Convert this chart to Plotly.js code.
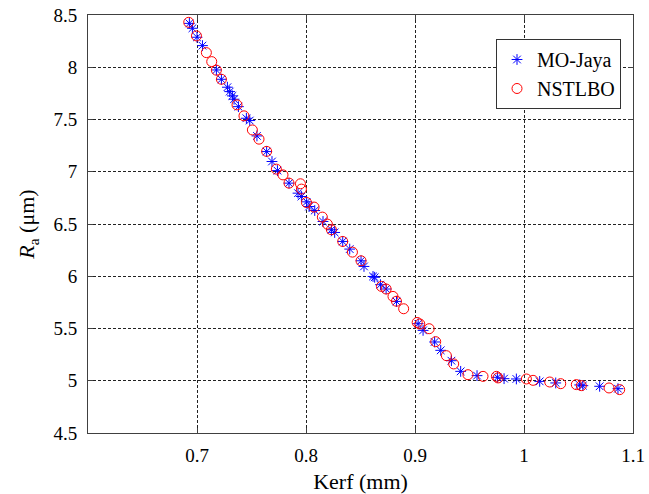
<!DOCTYPE html>
<html>
<head>
<meta charset="utf-8">
<script src="https://cdn.plot.ly/plotly-3.0.1.min.js"></script>
<style>html,body{margin:0;padding:0;background:#fff;}#chart{width:649px;height:494px;}</style>
</head>
<body>
<div id="chart"></div>
<script>
// MO-Jaya (asterisk markers)
var jayaKerf = [0.693,0.6958,0.700,0.705,0.7178,0.7224,0.7279,0.730,0.7325,0.734,0.738,0.7453,0.7484,0.755,0.7639,0.7688,0.7738,0.7844,0.7927,0.7958,0.8006,0.8028,0.808,0.8156,0.8233,0.8263,0.8337,0.8401,0.8505,0.8532,0.8615,0.863,0.8683,0.8735,0.883,0.9029,0.9074,0.918,0.9236,0.9334,0.9419,0.9569,0.9756,0.9817,0.993,1.0144,1.0291,1.0511,1.054,1.0694,1.0862];
var jayaRa   = [8.42,8.373,8.287,8.207,7.974,7.885,7.809,7.767,7.726,7.694,7.623,7.512,7.49,7.343,7.193,7.098,7.011,6.891,6.795,6.763,6.712,6.667,6.629,6.524,6.445,6.419,6.333,6.26,6.148,6.094,5.998,5.99,5.919,5.878,5.759,5.546,5.482,5.371,5.291,5.192,5.09,5.049,5.033,5.02,5.017,4.994,4.979,4.96,4.953,4.947,4.924];
// NSTLBO (circle markers)
var nstKerf = [0.6924,0.6995,0.7086,0.7135,0.7178,0.7224,0.7367,0.7431,0.7508,0.7569,0.7639,0.7728,0.7789,0.7844,0.7949,0.7958,0.8004,0.8074,0.815,0.8196,0.8233,0.8337,0.8426,0.8505,0.8692,0.8735,0.8798,0.883,0.8896,0.902,0.9044,0.913,0.919,0.9288,0.9355,0.9486,0.9624,0.9747,0.9762,1.0022,1.0083,1.0236,1.0337,1.048,1.0526,1.078,1.0878];
var nstRa   = [8.43,8.30,8.14,8.054,7.972,7.885,7.64,7.535,7.40,7.312,7.195,7.025,6.97,6.891,6.885,6.834,6.706,6.662,6.566,6.499,6.445,6.333,6.231,6.148,5.903,5.878,5.807,5.761,5.689,5.558,5.543,5.498,5.374,5.24,5.161,5.058,5.042,5.042,5.027,5.017,5.004,4.988,4.972,4.963,4.953,4.931,4.915];
var xTicks = [0.7,0.8,0.9,1.0,1.1];
var xTickText = ['0.7','0.8','0.9','1','1.1'];
var yTicks = [4.5,5,5.5,6,6.5,7,7.5,8,8.5];
var yTickText = ['4.5','5','5.5','6','6.5','7','7.5','8','8.5'];
var seriesNames = ['MO-Jaya','NSTLBO'];

var serif = '"Liberation Serif", "Times New Roman", Times, serif';
var traces = [
  {x: jayaKerf, y: jayaRa, name: seriesNames[0], type: 'scatter', mode: 'markers',
   marker: {symbol: 'asterisk-open', size: 9, color: '#0000ff', line: {color: '#0000ff', width: 1}}},
  {x: nstKerf, y: nstRa, name: seriesNames[1], type: 'scatter', mode: 'markers',
   marker: {symbol: 'circle-open', size: 10, color: '#ff0000', line: {color: '#ff0000', width: 1}}}
];
var axisCommon = {
  showline: true, mirror: 'ticks', linecolor: '#404040', linewidth: 1,
  ticks: 'inside', ticklen: 5, tickcolor: '#404040', tickwidth: 1,
  showgrid: true, gridcolor: '#222', gridwidth: 1, griddash: '3px,2px',
  zeroline: false, tickfont: {family: serif, size: 19, color: '#000'}
};
var layout = {
  width: 649, height: 494,
  margin: {l: 88, r: 16, t: 15, b: 61},
  paper_bgcolor: '#fff', plot_bgcolor: '#fff',
  showlegend: true,
  font: {family: serif},
  xaxis: Object.assign({}, axisCommon, {
    range: [0.6, 1.1], tickmode: 'array', tickvals: xTicks, ticktext: xTickText,
    ticklabelstandoff: 5,
    title: {text: 'Kerf (mm)', font: {family: serif, size: 22, color: '#000'}, standoff: 10}
  }),
  yaxis: Object.assign({}, axisCommon, {
    range: [4.5, 8.5], tickmode: 'array', tickvals: yTicks, ticktext: yTickText,
    ticklabelstandoff: 6,
    title: {text: '<i>R</i><sub>a</sub> (μm)', font: {family: serif, size: 22, color: '#000'}, standoff: 12}
  }),
  legend: {
    x: 0.978, y: 0.9426, xanchor: 'right', yanchor: 'top',
    bgcolor: '#fff', bordercolor: '#333', borderwidth: 1,
    font: {family: serif, size: 20, color: '#000'}
  }
};
Plotly.newPlot('chart', traces, layout, {staticPlot: true, displayModeBar: false});
</script>
</body>
</html>
